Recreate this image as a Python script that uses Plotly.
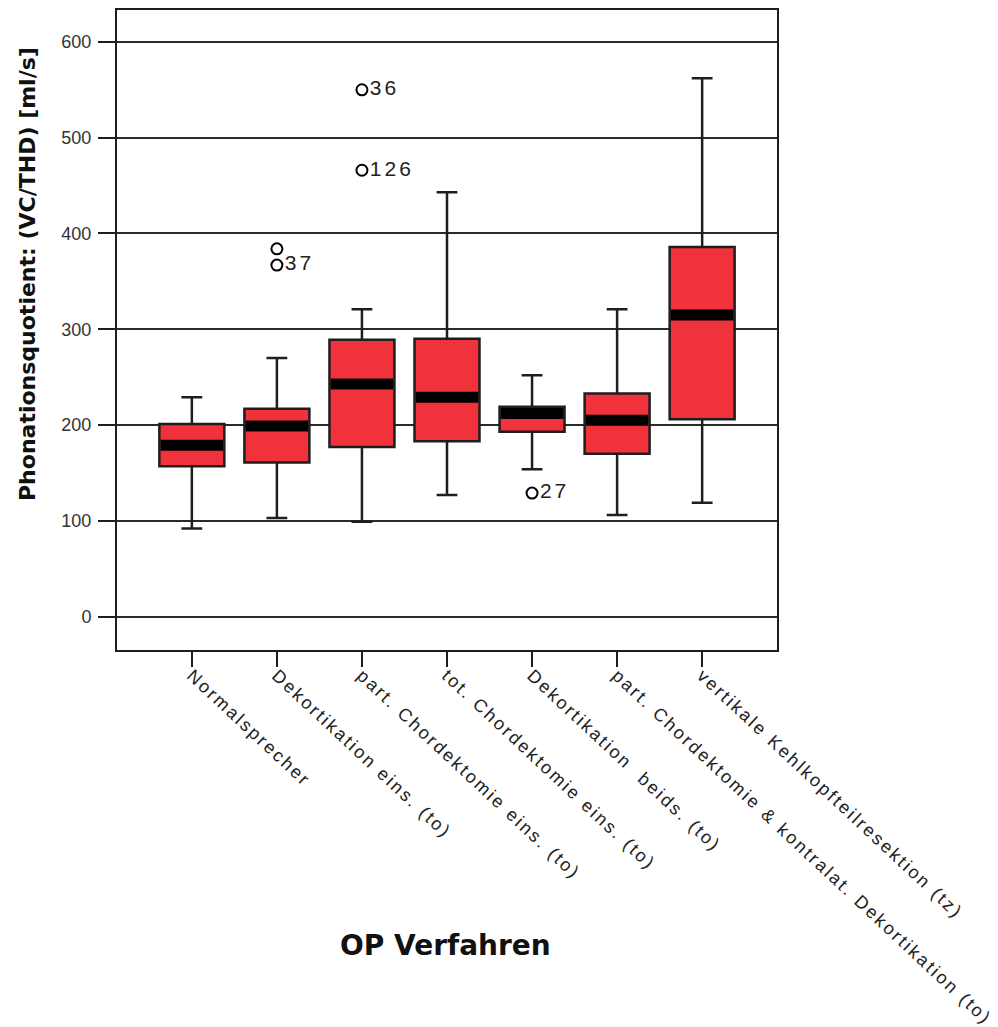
import plotly.graph_objects as go

# ---- data ----
categories = [
    "Normalsprecher",
    "Dekortikation eins. (to)",
    "part. Chordektomie eins. (to)",
    "tot. Chordektomie eins. (to)",
    "Dekortikation  beids. (to)",
    "part. Chordektomie & kontralat. Dekortikation (to)",
    "vertikale Kehlkopfteilresektion (tz)",
]
lower_whisker = [92, 103, 99, 127, 154, 106, 119]
q1_values = [157, 161, 177, 183, 193, 170, 206]
median_values = [179, 199, 243, 229, 212, 205, 315]
q3_values = [201, 217, 289, 290, 219, 233, 386]
upper_whisker = [229, 270, 321, 443, 252, 321, 562]

outlier_group = [1, 1, 2, 2, 4]
outlier_values = [384, 367, 550, 466, 129]
outlier_labels = ["", "37", "36", "126", "27"]

y_ticks = [0, 100, 200, 300, 400, 500, 600]

# ---- styling ----
RED = "#F0323C"
DARK = "#1e1e1e"
BOX_W = 0.764
positions = list(range(len(categories)))

fig = go.Figure()

fig.add_trace(go.Box(
    x=positions,
    q1=q1_values, median=median_values, q3=q3_values,
    lowerfence=lower_whisker, upperfence=upper_whisker,
    width=BOX_W, whiskerwidth=0.32,
    fillcolor=RED, line=dict(color=DARK, width=2.5),
    boxpoints=False, showlegend=False, hoverinfo="skip",
))

# thick median bands
mx, my = [], []
for p, m in zip(positions, median_values):
    mx += [p - BOX_W / 2 + 0.015, p + BOX_W / 2 - 0.015, None]
    my += [m, m, None]
fig.add_trace(go.Scatter(
    x=mx, y=my, mode="lines",
    line=dict(color="black", width=11),
    showlegend=False, hoverinfo="skip",
))

# outliers
fig.add_trace(go.Scatter(
    x=outlier_group, y=outlier_values,
    mode="markers+text",
    marker=dict(symbol="circle-open", size=11, color="black", line=dict(width=2)),
    text=['<span style="letter-spacing:3px">%s</span>' % t if t else "" for t in outlier_labels],
    textposition="middle right",
    textfont=dict(family="Liberation Sans, Arial, sans-serif", size=21, color="#222"),
    showlegend=False, hoverinfo="skip",
))

ticktext = ['<span style="letter-spacing:2.4px">%s</span>' % c for c in categories]

fig.update_layout(
    width=998, height=1027,
    margin=dict(l=117, r=221, t=10, b=377),
    paper_bgcolor="white", plot_bgcolor="white",
    font=dict(family="Liberation Sans, Arial, sans-serif", color="#222"),
    xaxis=dict(
        range=[-0.88, 6.88],
        tickmode="array", tickvals=positions, ticktext=ticktext,
        tickangle=43,
        ticks="outside", ticklen=15, tickwidth=2, tickcolor=DARK,
        tickfont=dict(size=18, color="#222"),
        ticklabelstandoff=-9,
        showline=True, mirror=True, linewidth=2, linecolor=DARK,
        showgrid=False, zeroline=False, automargin=False,
    ),
    yaxis=dict(
        range=[-34.8, 633.3],
        tickmode="array", tickvals=y_ticks,
        ticks="outside", ticklen=17, tickwidth=2, tickcolor=DARK,
        tickfont=dict(size=18, color="#333"),
        ticklabelstandoff=3,
        showline=True, mirror=True, linewidth=2, linecolor=DARK,
        showgrid=True, gridcolor="#2a2a2a", gridwidth=2,
        zeroline=False, automargin=False,
    ),
    annotations=[
        dict(text="<b>Phonationsquotient: (VC/THD) [ml/s]</b>",
             xref="paper", yref="paper", x=(27 - 117) / 660, y=(650 - 274) / 640,
             textangle=-90, showarrow=False, xanchor="center", yanchor="middle",
             font=dict(family="DejaVu Sans, sans-serif", size=22, color="#111")),
        dict(text="<b>OP Verfahren</b>",
             xref="paper", yref="paper", x=(445 - 117) / 660, y=(650 - 945) / 640,
             showarrow=False, xanchor="center", yanchor="middle",
             font=dict(family="DejaVu Sans, sans-serif", size=28, color="#111")),
    ],
)

fig.write_html(
    "out.html",
    config={"displayModeBar": False},
    post_script="document.body.style.margin='0px';document.body.style.overflow='hidden';",
)
